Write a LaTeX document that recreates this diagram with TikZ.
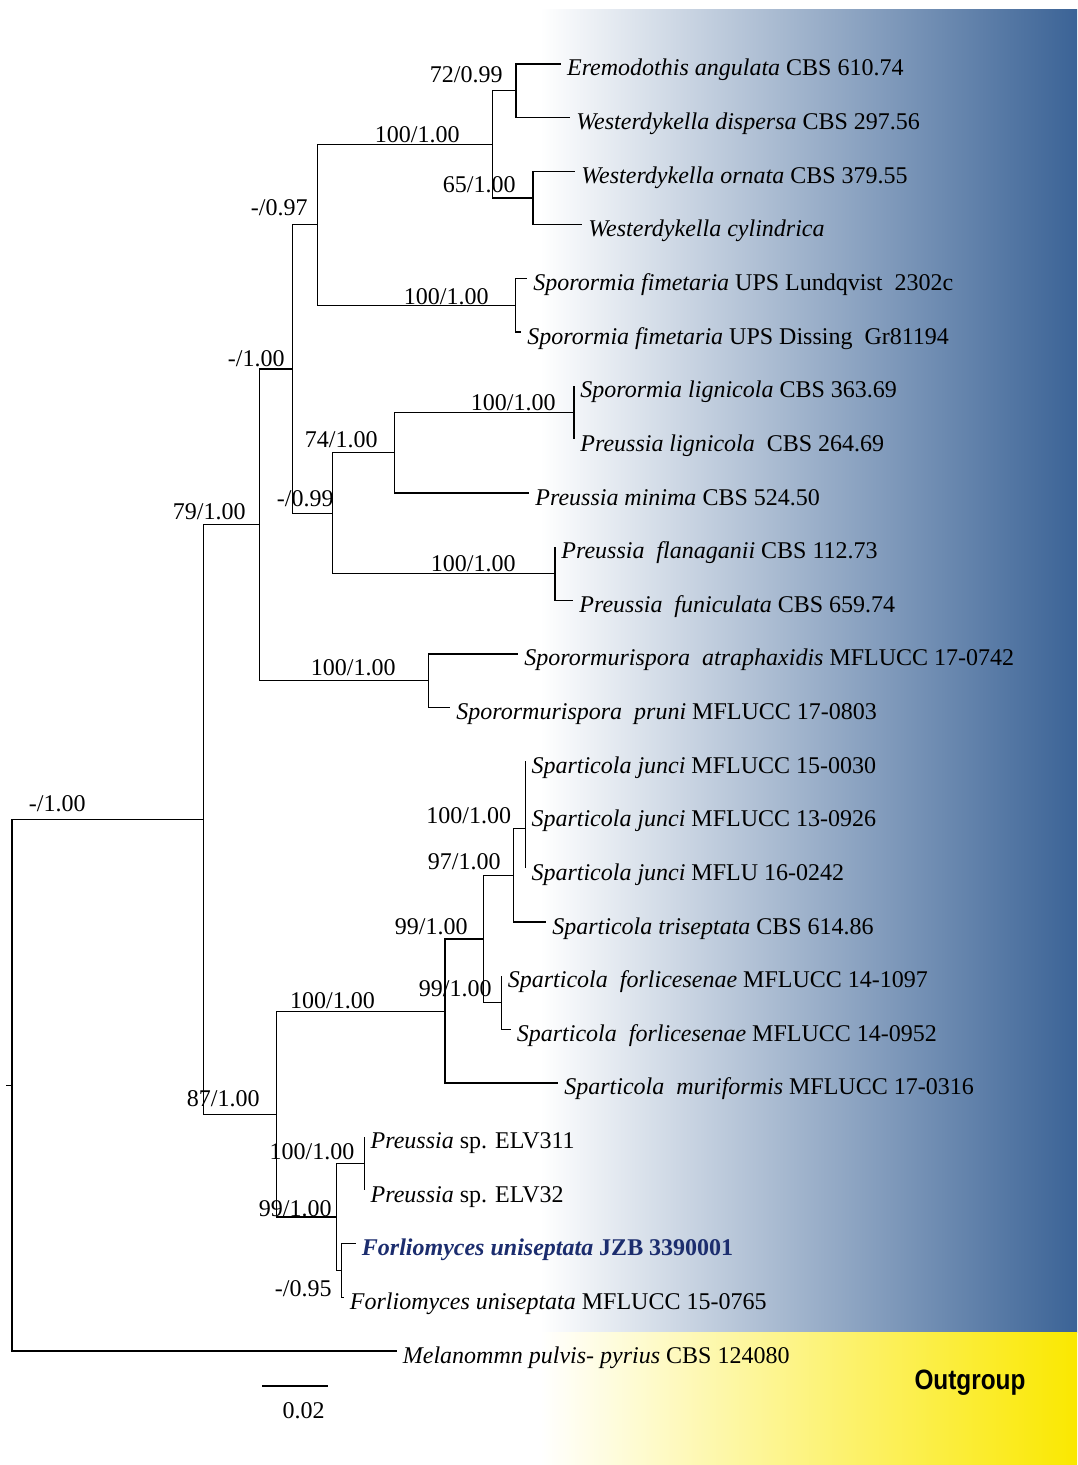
\documentclass[tikz,border=0pt]{standalone}
\usepackage{fontspec}
\setmainfont{Liberation Serif}
\newfontfamily\groupfont{Liberation Sans}
\usepackage{tikz}
\tikzstyle{branch} = [draw, line width=.6pt, fill=none]
\definecolor{cladeBlue}{RGB}{59,99,150}
\definecolor{outYellow}{RGB}{250,232,0}
\definecolor{newTaxon}{RGB}{28,45,110}

\begin{document}
\begin{tikzpicture}[
    x=0.5pt, y=-0.5pt,
    font=\fontsize{12}{14}\selectfont,
    tip/.style={
      anchor=west,
      inner xsep=3pt,
      inner ysep=0pt,
      text height=12pt,
      text depth=0pt,
    },
    ntip/.style={
      tip,
      text=newTaxon,
      font=\fontsize{12}{14}\selectfont\bfseries,
    },
    support/.style={
      anchor=east,
      inner sep=0pt,
      text height=8pt,
      text depth=0pt,
    },
  ]
  \useasboundingbox (0,0) rectangle (1077,1465);

  % clade backgrounds
  \shade[left color=white, right color=cladeBlue] (540,10) rectangle (1077,1332);
  \shade[left color=white, right color=outYellow] (540,1332) rectangle (1077,1465);
  \node[font=\groupfont\bfseries\fontsize{14}{16}\selectfont] (outgroup) at (970,1383)
    {\scalebox{0.87}[1]{Outgroup}};

  % taxa
  \node[tip] (eremo) at (560.7,64) {\textit{Eremodothis angulata} CBS 610.74};
  \node[tip] (wdisp) at (570,117.6) {\textit{Westerdykella dispersa} CBS 297.56};
  \node[tip] (worn) at (575,171.3) {\textit{Westerdykella ornata} CBS 379.55};
  \node[tip] (wcyl) at (582,224.9) {\textit{Westerdykella cylindrica}};
  \node[tip] (sfiml) at (527,278.5) {\textit{Sporormia fimetaria} UPS Lundqvist\ \ 2302c};
  \node[tip] (sfimd) at (521,332.1) {\textit{Sporormia fimetaria} UPS Dissing\ \ Gr81194};
  \node[tip] (slign) at (574,385.8) {\textit{Sporormia lignicola} CBS 363.69};
  \node[tip] (plign) at (574,439.4) {\textit{Preussia lignicola}\ \ CBS 264.69};
  \node[tip] (pmin) at (529,493) {\textit{Preussia minima} CBS 524.50};
  \node[tip] (pflan) at (555,546.6) {\textit{Preussia\ \ flanaganii} CBS 112.73};
  \node[tip] (pfun) at (573,600.3) {\textit{Preussia\ \ funiculata} CBS 659.74};
  \node[tip] (satr) at (518,653.9) {\textit{Sporormurispora\ \ atraphaxidis} MFLUCC 17-0742};
  \node[tip] (spru) at (450,707.5) {\textit{Sporormurispora\ \ pruni} MFLUCC 17-0803};
  \node[tip] (sjuna) at (525.1,761.1) {\textit{Sparticola junci} MFLUCC 15-0030};
  \node[tip] (sjunb) at (525.1,814.8) {\textit{Sparticola junci} MFLUCC 13-0926};
  \node[tip] (sjunc) at (525.1,868.4) {\textit{Sparticola junci} MFLU 16-0242};
  \node[tip] (stri) at (546,922) {\textit{Sparticola triseptata} CBS 614.86};
  \node[tip] (sfora) at (501.5,975.6) {\textit{Sparticola\ \ forlicesenae} MFLUCC 14-1097};
  \node[tip] (sforb) at (510.5,1029.3) {\textit{Sparticola\ \ forlicesenae} MFLUCC 14-0952};
  \node[tip] (smur) at (558,1082.9) {\textit{Sparticola\ \ muriformis} MFLUCC 17-0316};
  \node[tip] (psa) at (364.3,1136.5) {\textit{Preussia} sp. ELV311};
  \node[tip] (psb) at (364.3,1190.1) {\textit{Preussia} sp. ELV32};
  \node[ntip] (fjzb) at (355.5,1243.8) {\textit{Forliomyces uniseptata} JZB 3390001};
  \node[tip] (fmfl) at (343.5,1297.4) {\textit{Forliomyces uniseptata} MFLUCC 15-0765};
  \node[tip] (mel) at (396.5,1351) {\textit{Melanommn pulvis- pyrius} CBS 124080};

  % internal nodes
  \coordinate (rootstub) at (6,1085.3);
  \coordinate (root) at (12,1085.3);
  \coordinate (nin) at (203.2,819.6);
  \coordinate (n7900) at (259.6,524.8);
  \coordinate (n100a) at (292.7,369);
  \coordinate (n097) at (317.5,224.9);
  \coordinate (nwest) at (492.4,144.5);
  \coordinate (n7299) at (516,90.8);
  \coordinate (n6500) at (533,198.1);
  \coordinate (nsfim) at (515.5,305.3);
  \coordinate (n099) at (332.6,513.1);
  \coordinate (n7400) at (394.6,452.8);
  \coordinate (nlign) at (574,412.6);
  \coordinate (nflan) at (555,573.5);
  \coordinate (nspm) at (428.7,680.7);
  \coordinate (n8700) at (276.2,1114.5);
  \coordinate (nspa) at (445,1011.1);
  \coordinate (n99t) at (483.1,939);
  \coordinate (n9700) at (513.8,875.1);
  \coordinate (njun) at (525.1,828.2);
  \coordinate (nfor) at (501.5,1002.5);
  \coordinate (n99b) at (336.8,1217);
  \coordinate (npsp) at (364.3,1163.3);
  \coordinate (nforl) at (341.6,1270.6);

  % support values
  \node[support] (lin) at (86,803) {-/1.00};
  \node[support] (l7900) at (246,511.7) {79/1.00};
  \node[support] (l100a) at (285,358) {-/1.00};
  \node[support] (l097) at (308,208) {-/0.97};
  \node[support] (lwest) at (460,135) {100/1.00};
  \node[support] (l7299) at (503,75) {72/0.99};
  \node[support] (l6500) at (516,185) {65/1.00};
  \node[support] (lsfim) at (489,297) {100/1.00};
  \node[support] (l099) at (334,498) {-/0.99};
  \node[support] (l7400) at (378,439) {74/1.00};
  \node[support] (llign) at (556,402) {100/1.00};
  \node[support] (lflan) at (516,563) {100/1.00};
  \node[support] (lspm) at (396,667) {100/1.00};
  \node[support] (l8700) at (260,1098) {87/1.00};
  \node[support] (lspa) at (375.3,1000) {100/1.00};
  \node[support] (l99t) at (468,926.7) {99/1.00};
  \node[support] (l9700) at (501,861.7) {97/1.00};
  \node[support] (ljun) at (511.4,815) {100/1.00};
  \node[support] (lfor) at (492,988) {99/1.00};
  \node[support] (l99b) at (332,1208.3) {99/1.00};
  \node[support] (lpsp) at (354.7,1151.7) {100/1.00};
  \node[support] (lforl) at (332,1288.3) {-/0.95};

  % branches
  \draw[branch] (rootstub) -- (root);
  \draw[branch] (root) |- (nin);
  \draw[branch] (root) |- (mel.west);
  \draw[branch] (nin) |- (n7900);
  \draw[branch] (nin) |- (n8700);

  \draw[branch] (n7900) |- (n100a);
  \draw[branch] (n7900) |- (nspm);
  \draw[branch] (n100a) |- (n097);
  \draw[branch] (n100a) |- (n099);
  \draw[branch] (n097) |- (nwest);
  \draw[branch] (n097) |- (nsfim);
  \draw[branch] (nwest) |- (n7299);
  \draw[branch] (nwest) |- (n6500);
  \draw[branch] (n7299) |- (eremo.west);
  \draw[branch] (n7299) |- (wdisp.west);
  \draw[branch] (n6500) |- (worn.west);
  \draw[branch] (n6500) |- (wcyl.west);
  \draw[branch] (nsfim) |- (sfiml.west);
  \draw[branch] (nsfim) |- (sfimd.west);

  \draw[branch] (n099) |- (n7400);
  \draw[branch] (n099) |- (nflan);
  \draw[branch] (n7400) |- (nlign);
  \draw[branch] (n7400) |- (pmin.west);
  \draw[branch] (nlign) |- (slign.west);
  \draw[branch] (nlign) |- (plign.west);
  \draw[branch] (nflan) |- (pflan.west);
  \draw[branch] (nflan) |- (pfun.west);
  \draw[branch] (nspm) |- (satr.west);
  \draw[branch] (nspm) |- (spru.west);

  \draw[branch] (n8700) |- (nspa);
  \draw[branch] (n8700) |- (n99b);
  \draw[branch] (nspa) |- (n99t);
  \draw[branch] (nspa) |- (smur.west);
  \draw[branch] (n99t) |- (n9700);
  \draw[branch] (n99t) |- (nfor);
  \draw[branch] (n9700) |- (njun);
  \draw[branch] (n9700) |- (stri.west);
  \draw[branch] (njun) |- (sjuna.west);
  \draw[branch] (njun) |- (sjunb.west);
  \draw[branch] (njun) |- (sjunc.west);
  \draw[branch] (nfor) |- (sfora.west);
  \draw[branch] (nfor) |- (sforb.west);

  \draw[branch] (n99b) |- (npsp);
  \draw[branch] (n99b) |- (nforl);
  \draw[branch] (npsp) |- (psa.west);
  \draw[branch] (npsp) |- (psb.west);
  \draw[branch] (nforl) |- (fjzb.west);
  \draw[branch] (nforl) |- (fmfl.west);

  % scale bar
  \coordinate (sbleft) at (262.4,1386);
  \coordinate (sbright) at (327.8,1386);
  \draw[branch] (sbleft) -- (sbright);
  \node[support, anchor=center] (sblabel) at (303.5,1410) {0.02};

\end{tikzpicture}
\end{document}
